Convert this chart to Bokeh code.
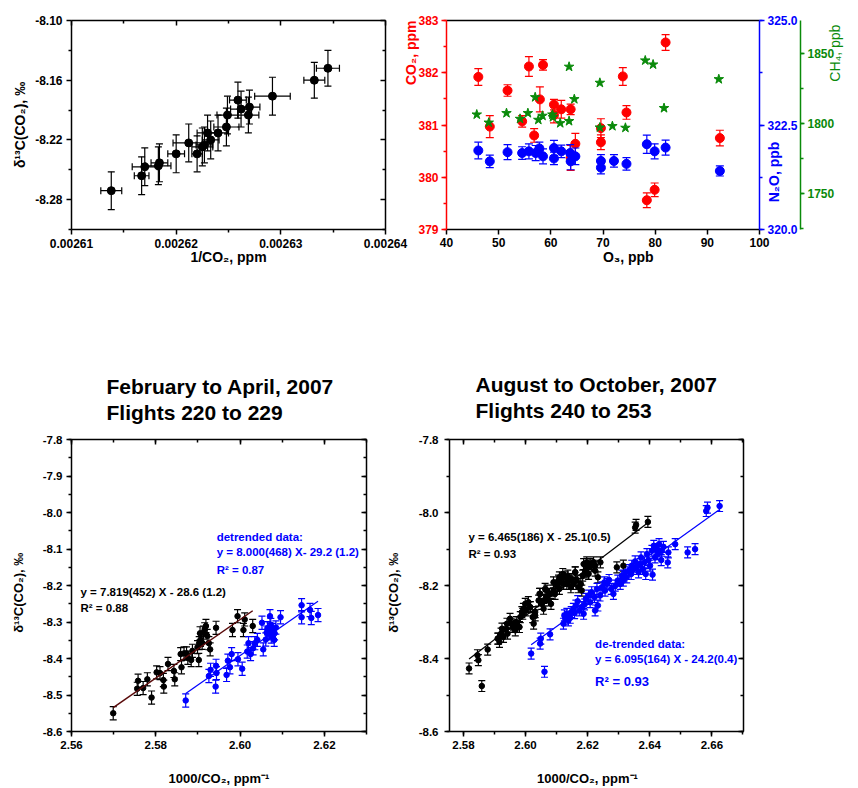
import numpy as np
from bokeh.plotting import figure
from bokeh.models import (Range1d, LinearAxis, SingleIntervalTicker, FixedTicker,
                          PrintfTickFormatter, Label, Title)
from bokeh.layouts import column, row
from bokeh.embed import file_html
from bokeh.resources import INLINE

FONT = "Liberation Sans"
RED = "#ff0000"
BLUE = "#0000ff"
GREEN = "#0a8a0a"
FIT_BROWN = "#5a0a0a"

# ---------------- top-left: delta13C vs 1/CO2 ----------------
inv_co2 = [0.0026138, 0.0026167, 0.0026170, 0.0026183, 0.0026184, 0.0026200,
           0.0026212, 0.0026220, 0.0026225, 0.0026227, 0.0026230, 0.0026233,
           0.0026240, 0.0026248, 0.0026249, 0.0026259, 0.0026262, 0.0026269,
           0.0026270, 0.0026292, 0.0026332, 0.0026345]
d13c_tl = [-8.271, -8.256, -8.247, -8.246, -8.243, -8.234,
           -8.223, -8.234, -8.227, -8.225, -8.213, -8.220,
           -8.213, -8.207, -8.195, -8.180, -8.189, -8.195,
           -8.187, -8.176, -8.160, -8.148]
inv_co2_err = [1.0e-6, 0.7e-6, 1.2e-6, 1.2e-6, 0.8e-6, 0.8e-6,
               1.5e-6, 0.5e-6, 1.0e-6, 0.8e-6, 1.0e-6, 0.8e-6,
               1.0e-6, 1.2e-6, 1.0e-6, 0.8e-6, 1.0e-6, 1.0e-6,
               1.0e-6, 1.7e-6, 1.0e-6, 1.1e-6]
d13c_tl_err = [0.019, 0.019, 0.019, 0.019, 0.019, 0.019,
               0.019, 0.018, 0.019, 0.018, 0.018, 0.019,
               0.018, 0.019, 0.019, 0.018, 0.018, 0.018,
               0.017, 0.019, 0.018, 0.018]
tl_xticks = [0.00261, 0.00262, 0.00263, 0.00264]
tl_xminor = [0.002615, 0.002625, 0.002635]
tl_yticks = [-8.28, -8.22, -8.16, -8.10]
tl_yminor = [-8.31, -8.25, -8.19, -8.13]

# ---------------- top-right: CO2, N2O, CH4 vs O3 ----------------
o3_co2 = [46.1, 48.3, 51.7, 54.5, 55.8, 56.8, 57.9, 58.5, 60.6, 60.6, 62.0,
          63.8, 63.8, 64.7, 69.6, 69.6, 73.8, 74.5, 78.4, 79.9, 82.0, 92.4]
co2 = [381.92, 380.97, 381.66, 381.07, 382.12, 380.80, 381.49, 382.15, 381.39,
       381.19, 381.30, 381.30, 380.37, 380.64, 380.94, 380.67, 381.93, 381.24,
       379.56, 379.76, 382.58, 380.75]
co2_err = [0.16, 0.21, 0.11, 0.11, 0.19, 0.13, 0.24, 0.10, 0.10, 0.15, 0.17,
           0.10, 0.24, 0.20, 0.18, 0.14, 0.17, 0.13, 0.14, 0.13, 0.15, 0.15]

o3_n2o = [46.1, 48.3, 51.7, 54.5, 55.8, 57.1, 57.8, 58.5, 60.6, 60.6, 62.0,
          63.7, 63.8, 64.7, 69.6, 69.6, 72.1, 74.5, 78.4, 79.9, 82.0, 92.4]
n2o = [321.89, 321.63, 321.85, 321.83, 321.87, 321.83, 321.94, 321.75, 321.95,
       321.70, 321.87, 321.83, 321.63, 321.75, 321.64, 321.48, 321.64, 321.57,
       322.04, 321.87, 321.96, 321.40]
n2o_err = [0.20, 0.15, 0.18, 0.15, 0.18, 0.18, 0.15, 0.18, 0.18, 0.15, 0.15,
           0.20, 0.20, 0.20, 0.15, 0.15, 0.15, 0.15, 0.22, 0.18, 0.18, 0.12]

o3_ch4 = [45.8, 48.1, 51.5, 54.1, 55.6, 57.0, 57.6, 58.4, 60.3, 60.4, 61.8,
          63.5, 63.5, 64.5, 69.4, 69.4, 71.8, 74.3, 78.1, 79.6, 81.7, 92.2]
ch4 = [1806.3, 1800.5, 1807.3, 1803.2, 1807.3, 1818.7, 1802.5, 1805.4, 1806.3,
       1804.4, 1800.1, 1801.6, 1840.5, 1817.3, 1829.0, 1797.0, 1798.0, 1796.8,
       1845.0, 1842.1, 1810.9, 1831.6]

# ---------------- bottom-left: Feb-Apr 2007 ----------------
feb_x = [2.5699, 2.5756, 2.5758, 2.5770, 2.5780, 2.5790, 2.5802, 2.5810, 2.5818, 2.5819,
         2.5829, 2.5843, 2.5845, 2.5859, 2.5861, 2.5867, 2.5873, 2.5876, 2.5884, 2.5887,
         2.5899, 2.5902, 2.5903, 2.5905, 2.5906, 2.5910, 2.5913, 2.5916, 2.5919, 2.5922,
         2.5926, 2.5929, 2.5943, 2.5982, 2.5994, 2.6008, 2.6011, 2.6030]
feb_y = [-8.550, -8.483, -8.461, -8.481, -8.457, -8.507, -8.438, -8.440, -8.459, -8.477,
         -8.415, -8.434, -8.457, -8.388, -8.424, -8.386, -8.386, -8.398, -8.404, -8.379,
         -8.369, -8.404, -8.358, -8.331, -8.349, -8.357, -8.329, -8.320, -8.311, -8.338,
         -8.358, -8.375, -8.316, -8.322, -8.284, -8.322, -8.293, -8.311]
feb_dt_x = [2.5871, 2.5926, 2.5930, 2.5942, 2.5944, 2.5943, 2.5968, 2.5971, 2.5976, 2.5980,
            2.5995, 2.6005, 2.6017, 2.6020, 2.6025, 2.6031, 2.6035, 2.6041, 2.6055, 2.6052,
            2.6061, 2.6063, 2.6065, 2.6069, 2.6071, 2.6073, 2.6074, 2.6077, 2.6081, 2.6082,
            2.6085, 2.6096, 2.6146, 2.6146, 2.6166, 2.6169, 2.6185]
feb_dt_y = [-8.515, -8.448, -8.431, -8.477, -8.440, -8.420, -8.445, -8.406, -8.424, -8.388,
            -8.402, -8.428, -8.381, -8.358, -8.388, -8.372, -8.358, -8.349, -8.375, -8.302,
            -8.348, -8.329, -8.317, -8.331, -8.284, -8.308, -8.340, -8.322, -8.349, -8.331,
            -8.315, -8.287, -8.254, -8.287, -8.267, -8.289, -8.281]
feb_err = 0.018

# ---------------- bottom-right: Aug-Oct 2007 ----------------
aug_x = [2.5818, 2.5845, 2.5848, 2.5859, 2.5878, 2.5910, 2.5916, 2.5921, 2.5929, 2.5938,
         2.5942, 2.5950, 2.5954, 2.5959, 2.5967, 2.5970, 2.5980, 2.5983, 2.5988, 2.5991,
         2.5999, 2.6002, 2.6009, 2.6015, 2.6023, 2.6026, 2.6031, 2.6042, 2.6045, 2.6052,
         2.6058, 2.6060, 2.6063, 2.6066, 2.6074, 2.6077, 2.6082, 2.6090, 2.6095, 2.6101,
         2.6106, 2.6109, 2.6114, 2.6120, 2.6122, 2.6128, 2.6133, 2.6136, 2.6141, 2.6146,
         2.6149, 2.6154, 2.6160, 2.6165, 2.6170, 2.6178, 2.6181, 2.6184, 2.6187, 2.6192,
         2.6197, 2.6201, 2.6203, 2.6208, 2.6213, 2.6219, 2.6224, 2.6233, 2.6241, 2.6294,
         2.6315, 2.6353, 2.6356, 2.6394,
         2.5913, 2.5924, 2.5940, 2.5961, 2.5980, 2.5993, 2.6015, 2.6031, 2.6047, 2.6069,
         2.6090, 2.6109, 2.6133, 2.6160, 2.6195, 2.6224]
aug_y = [-8.4273, -8.3910, -8.4046, -8.4754, -8.3755, -8.3455, -8.3546, -8.3319, -8.3410, -8.3183,
         -8.3319, -8.2911, -8.3047, -8.3138, -8.3228, -8.3001, -8.3138, -8.2865, -8.2729, -8.2774,
         -8.2502, -8.2684, -8.2456, -8.2593, -8.2865, -8.3047, -8.2820, -8.2411, -8.2229, -8.2502,
         -8.2638, -8.2411, -8.2093, -8.2320, -8.2411, -8.2229, -8.2502, -8.2139, -8.2229, -8.2002,
         -8.1866, -8.2093, -8.1911, -8.1684, -8.1957, -8.1775, -8.1957, -8.1730, -8.1866, -8.2048,
         -8.1821, -8.1957, -8.1639, -8.1866, -8.2048, -8.1957, -8.2139, -8.1730, -8.1412, -8.1594,
         -8.1366, -8.1503, -8.1684, -8.1412, -8.1457, -8.1366, -8.1594, -8.1775, -8.1366, -8.1503,
         -8.1457, -8.0413, -8.0340, -8.0258,
         -8.3456, -8.3183, -8.3047, -8.3093, -8.3138, -8.2638, -8.2593, -8.2729, -8.2230, -8.2139,
         -8.1912, -8.1775, -8.1866, -8.1639, -8.1639, -8.1458]
aug_dt_x = [2.6018, 2.6047, 2.6049, 2.6061, 2.6079,
            2.6122, 2.6125, 2.6128, 2.6133, 2.6138, 2.6144, 2.6147, 2.6154, 2.6158, 2.6162,
            2.6168, 2.6173, 2.6181, 2.6187, 2.6190, 2.6194, 2.6203, 2.6208, 2.6213, 2.6222,
            2.6224, 2.6230, 2.6233, 2.6240, 2.6246, 2.6254, 2.6256, 2.6262, 2.6269, 2.6276,
            2.6283, 2.6289, 2.6297, 2.6305, 2.6310, 2.6315, 2.6321, 2.6326, 2.6334, 2.6340,
            2.6342, 2.6348, 2.6353, 2.6358, 2.6364, 2.6369, 2.6372, 2.6377, 2.6383, 2.6387,
            2.6391, 2.6396, 2.6401, 2.6407, 2.6409, 2.6413, 2.6417, 2.6423, 2.6426, 2.6430,
            2.6437, 2.6439, 2.6444, 2.6458, 2.6460, 2.6482, 2.6522, 2.6546, 2.6582, 2.6586,
            2.6625]
aug_dt_y = [-8.3865, -8.3592, -8.3456, -8.4364, -8.3338,
            -8.3047, -8.2820, -8.2911, -8.2775, -8.2956, -8.2884, -8.2729, -8.2638, -8.2757, -8.2548,
            -8.2430, -8.2684, -8.2593, -8.2775, -8.2520, -8.2366, -8.2275, -8.2457, -8.2184, -8.2321,
            -8.2684, -8.2093, -8.2548, -8.2275, -8.2048, -8.1912, -8.2139, -8.1957, -8.1848, -8.2093,
            -8.2230, -8.2003, -8.1866, -8.1957, -8.1730, -8.1866, -8.1639, -8.1776, -8.1576, -8.1685,
            -8.1458, -8.1549, -8.1340, -8.1485, -8.1639, -8.1412, -8.1231, -8.1549, -8.1367, -8.1685,
            -8.1140, -8.1303, -8.1458, -8.1049, -8.1703, -8.0913, -8.1231, -8.1004, -8.1140, -8.0867,
            -8.1303, -8.1049, -8.0940, -8.1367, -8.1094, -8.0867, -8.1094, -8.1004, -7.9959, -7.9868,
            -7.9823]
aug_err = 0.015

feb_title = ["February to April, 2007", "Flights 220 to 229"]
aug_title = ["August to October, 2007", "Flights 240 to 253"]
feb_fit_txt = ["y =  7.819(452) X - 28.6 (1.2)", "R\u00b2 = 0.88"]
feb_dt_txt = ["detrended data:", "y =  8.000(468) X- 29.2 (1.2)", "R\u00b2 = 0.87"]
aug_fit_txt = ["y = 6.465(186) X - 25.1(0.5)", "R\u00b2 = 0.93"]
aug_dt_txt = ["de-trended data:", "y = 6.095(164) X - 24.2(0.4)", "R\u00b2 = 0.93"]

D13C = "\u03b4\u00b9\u00b3C(CO\u2082), \u2030"
XBOT = "1000/CO\u2082, ppm\u207b\u00b9"
NB = "\u00a0"   # non-breaking space, used to nudge axis labels along their axis


# ---------------- helpers ----------------
def make_fig(w, h, l, r, t, b, xr, yr):
    p = figure(width=w, height=h, x_range=Range1d(*xr), y_range=Range1d(*yr),
               x_axis_type=None, y_axis_type=None,
               output_backend="svg", toolbar_location=None,
               min_border_left=l, min_border_right=r,
               min_border_top=t, min_border_bottom=b)
    p.outline_line_color = None
    p.background_fill_color = "white"
    p.border_fill_color = "white"
    return p


def set_align(ax, where):
    try:
        ax.axis_label_align = where
    except Exception:
        pass


def add_axis(p, side, ticker, fmt=None, color="black", size="12px", label=None,
             label_size="14px", tick_dir="out", show_labels=True, yname=None,
             standoff=4, label_standoff=6, label_style="bold", tick_len=5, minor_len=3,
             orient=None):
    kw = {}
    if yname:
        kw["y_range_name"] = yname
    ax = LinearAxis(ticker=ticker, **kw)
    if fmt:
        ax.formatter = PrintfTickFormatter(format=fmt)
    ax.axis_line_color = color
    ax.axis_line_width = 1.5
    ax.major_tick_line_color = color
    ax.major_tick_line_width = 1.5
    ax.minor_tick_line_color = color
    ax.minor_tick_line_width = 1.5
    if tick_dir == "out":
        ax.major_tick_out, ax.major_tick_in = tick_len, 0
        ax.minor_tick_out, ax.minor_tick_in = minor_len, 0
    elif tick_dir == "in":
        ax.major_tick_out, ax.major_tick_in = 0, tick_len
        ax.minor_tick_out, ax.minor_tick_in = 0, minor_len
    else:
        ax.major_tick_out = ax.major_tick_in = 0
        ax.minor_tick_out = ax.minor_tick_in = 0
    if show_labels:
        ax.major_label_text_font = FONT
        ax.major_label_text_font_style = "bold"
        ax.major_label_text_font_size = size
        ax.major_label_text_color = color
        ax.major_label_standoff = standoff
    else:
        ax.major_label_text_font_size = "0px"
        ax.major_label_text_color = None
        ax.major_label_standoff = 0
    if label:
        ax.axis_label = label
        ax.axis_label_text_font = FONT
        ax.axis_label_text_font_style = label_style
        ax.axis_label_text_font_size = label_size
        ax.axis_label_text_color = color
        ax.axis_label_standoff = label_standoff
        if orient is not None:
            ax.axis_label_orientation = orient
    p.add_layout(ax, side)
    return ax


def spacer(p, side, ticker, px):
    # invisible axis used only to reserve a band of px pixels in a side panel
    ax = LinearAxis(ticker=ticker)
    ax.axis_line_color = None
    ax.major_tick_line_color = None
    ax.minor_tick_line_color = None
    ax.major_tick_out, ax.major_tick_in = px, 0
    ax.minor_tick_out, ax.minor_tick_in = 0, 0
    ax.major_label_text_font_size = "0px"
    ax.major_label_text_color = None
    ax.major_label_standoff = 0
    p.add_layout(ax, side)


def yerr(p, x, y, e, color, cap=7, width=1.2, yname=None):
    kw = {"y_range_name": yname} if yname else {}
    x = np.asarray(x, float)
    y = np.asarray(y, float)
    e = np.broadcast_to(np.asarray(e, float), y.shape)
    p.segment(x0=x, y0=y - e, x1=x, y1=y + e, line_color=color, line_width=width, **kw)
    p.scatter(np.r_[x, x], np.r_[y - e, y + e], marker="dash", size=cap,
              line_color=color, line_width=width, **kw)


def xerr(p, x, y, e, color, cap=7, width=1.2):
    x = np.asarray(x, float)
    y = np.asarray(y, float)
    e = np.broadcast_to(np.asarray(e, float), x.shape)
    p.segment(x0=x - e, y0=y, x1=x + e, y1=y, line_color=color, line_width=width)
    p.scatter(np.r_[x - e, x + e], np.r_[y, y], marker="dash", size=cap, angle=np.pi / 2,
              line_color=color, line_width=width)


def fit_line(p, x, y, color, width=1.2):
    x = np.asarray(x, float)
    y = np.asarray(y, float)
    k, c = np.polyfit(x, y, 1)
    xs = np.array([x.min(), x.max()])
    p.line(xs, k * xs + c, line_color=color, line_width=width)


def label(p, x, y, text, color="black", size="12px", style="bold", align="left"):
    p.add_layout(Label(x=x, y=y, text=text, text_color=color, text_font=FONT,
                       text_font_size=size, text_font_style=style, text_align=align,
                       text_baseline="middle"))


def titles(p, lines, offset):
    # first added sits closest to the frame
    p.add_layout(Title(text=lines[1], align="left", offset=offset, text_font=FONT,
                       text_font_style="bold", text_font_size="21px", standoff=2,
                       text_color="black"), "above")
    p.add_layout(Title(text=lines[0], align="left", offset=offset, text_font=FONT,
                       text_font_style="bold", text_font_size="21px", standoff=0,
                       text_color="black"), "above")


# ================= top-left =================
p1 = make_fig(408, 370, 71, 23, 20, 141, (0.00261, 0.00264), (-8.31, -8.10))
add_axis(p1, "below", FixedTicker(ticks=tl_xticks, minor_ticks=tl_xminor), fmt="%.5f",
         label="1/CO\u2082, ppm", label_size="14px", standoff=4, label_standoff=-2)
add_axis(p1, "left", FixedTicker(ticks=tl_yticks, minor_ticks=tl_yminor),
         fmt="%.2f", label=D13C, label_size="14px", standoff=4, label_standoff=4)
add_axis(p1, "above", FixedTicker(ticks=tl_xticks, minor_ticks=tl_xminor),
         tick_dir="in", show_labels=False)
add_axis(p1, "right", FixedTicker(ticks=tl_yticks, minor_ticks=tl_yminor),
         tick_dir="in", show_labels=False)
xerr(p1, inv_co2, d13c_tl, inv_co2_err, "black", cap=7)
yerr(p1, inv_co2, d13c_tl, d13c_tl_err, "black", cap=7)
p1.scatter(inv_co2, d13c_tl, marker="circle", size=8, fill_color="black", line_color="black")

# ================= top-right =================
p2 = make_fig(470, 370, 58, 99, 20, 141, (40, 100), (379, 383))
p2.border_fill_color = None      # let the neighbour's last tick label show through
p2.margin = (0, 0, 0, -20)
p2.extra_y_ranges = {"n2o": Range1d(320.0, 325.0), "ch4": Range1d(1724.0, 1873.6)}
add_axis(p2, "below", SingleIntervalTicker(interval=10, num_minor_ticks=0), fmt="%d",
         standoff=3, label=NB * 13 + "O\u2083, ppb", label_size="14px", label_standoff=-1)
red_ax = add_axis(p2, "left", SingleIntervalTicker(interval=1, num_minor_ticks=2), fmt="%d",
                  color=RED, standoff=3, label="CO\u2082, ppm", label_size="14px",
                  label_standoff=4, orient=np.pi / 2)
set_align(red_ax, "end")
add_axis(p2, "above", SingleIntervalTicker(interval=10, num_minor_ticks=0),
         tick_dir="none", show_labels=False)
blue_ax = add_axis(p2, "right", SingleIntervalTicker(interval=2.5, num_minor_ticks=2),
                   fmt="%.1f", color=BLUE, yname="n2o", standoff=3, size="12px",
                   label=NB * 7 + "N\u2082O, ppb", label_size="14px", label_standoff=-27,
                   orient=np.pi / 2)
set_align(blue_ax, "start")
spacer(p2, "right", SingleIntervalTicker(interval=1, num_minor_ticks=0), 8)
green_ax = add_axis(p2, "right", SingleIntervalTicker(interval=50, num_minor_ticks=2),
                    fmt="%d", color=GREEN, yname="ch4", standoff=3, tick_len=4,
                    size="12px", label=NB * 38 + "CH\u2084, ppb", label_size="14px",
                    label_style="normal", label_standoff=-2, orient=np.pi / 2)
set_align(green_ax, "start")

yerr(p2, o3_co2, co2, co2_err, RED, cap=8)
p2.scatter(o3_co2, co2, marker="circle", size=9, fill_color=RED, line_color=RED)
yerr(p2, o3_n2o, n2o, n2o_err, BLUE, cap=8, yname="n2o")
p2.scatter(o3_n2o, n2o, marker="circle", size=9, fill_color=BLUE, line_color=BLUE,
           y_range_name="n2o")
p2.scatter(o3_ch4, ch4, marker="star", size=10, fill_color=GREEN, line_color=GREEN,
           y_range_name="ch4")

# ================= bottom-left =================
p3 = make_fig(380, 418, 71, 14, 69, 56, (2.56, 2.63), (-8.6, -7.8))
add_axis(p3, "below", SingleIntervalTicker(interval=0.02, num_minor_ticks=2), fmt="%.2f",
         size="11.5px", label=XBOT, label_size="13px", standoff=4, label_standoff=19)
add_axis(p3, "left", SingleIntervalTicker(interval=0.1, num_minor_ticks=2), fmt="%.1f",
         size="11.5px", label=D13C + NB * 4, label_size="13px", standoff=4, label_standoff=14)
add_axis(p3, "above", SingleIntervalTicker(interval=0.02, num_minor_ticks=2),
         tick_dir="in", show_labels=False)
add_axis(p3, "right", SingleIntervalTicker(interval=0.1, num_minor_ticks=2),
         tick_dir="in", show_labels=False)
spacer(p3, "above", SingleIntervalTicker(interval=0.02, num_minor_ticks=0), 15)
titles(p3, feb_title, 35)
yerr(p3, feb_x, feb_y, feb_err, "black", cap=7)
yerr(p3, feb_dt_x, feb_dt_y, feb_err, BLUE, cap=7)
p3.scatter(feb_x, feb_y, marker="circle", size=5.5, fill_color="black", line_color="black")
p3.scatter(feb_dt_x, feb_dt_y, marker="circle", size=5.5, fill_color=BLUE, line_color=BLUE)
fit_line(p3, feb_x, feb_y, FIT_BROWN, width=1.5)
fit_line(p3, feb_dt_x, feb_dt_y, BLUE, width=1.2)

label(p3, 2.56214, -8.2174, feb_fit_txt[0], size="11.5px")
label(p3, 2.56214, -8.2628, feb_fit_txt[1], size="11.5px")
label(p3, 2.59444, -8.0671, feb_dt_txt[0], color=BLUE, size="11.5px")
label(p3, 2.59444, -8.1081, feb_dt_txt[1], color=BLUE, size="11.5px")
label(p3, 2.59444, -8.1562, feb_dt_txt[2], color=BLUE, size="11.5px")

# ================= bottom-right =================
p4 = make_fig(478, 418, 69, 115, 69, 56, (2.5755, 2.6702), (-8.6, -7.8))
add_axis(p4, "below", SingleIntervalTicker(interval=0.02, num_minor_ticks=2), fmt="%.2f",
         size="11.5px", label=XBOT + NB * 5, label_size="13px", standoff=4, label_standoff=19)
add_axis(p4, "left", SingleIntervalTicker(interval=0.2, num_minor_ticks=2), fmt="%.1f",
         size="11.5px", label=D13C + NB * 4, label_size="13px", standoff=6, label_standoff=15)
add_axis(p4, "above", SingleIntervalTicker(interval=0.02, num_minor_ticks=2),
         tick_dir="in", show_labels=False)
add_axis(p4, "right", SingleIntervalTicker(interval=0.2, num_minor_ticks=2),
         tick_dir="in", show_labels=False)
spacer(p4, "above", SingleIntervalTicker(interval=0.02, num_minor_ticks=0), 17)
titles(p4, aug_title, 26)
yerr(p4, aug_x, aug_y, aug_err, "black", cap=7)
yerr(p4, aug_dt_x, aug_dt_y, aug_err, BLUE, cap=7)
p4.scatter(aug_x, aug_y, marker="circle", size=5.5, fill_color="black", line_color="black")
p4.scatter(aug_dt_x, aug_dt_y, marker="circle", size=5.5, fill_color=BLUE, line_color=BLUE)
fit_line(p4, aug_x, aug_y, "black", width=1.2)
fit_line(p4, aug_dt_x, aug_dt_y, BLUE, width=1.2)

label(p4, 2.5816, -8.0659, aug_fit_txt[0], size="11.5px")
label(p4, 2.5816, -8.1139, aug_fit_txt[1], size="11.5px")
label(p4, 2.6224, -8.3610, aug_dt_txt[0], color=BLUE, size="11.5px")
label(p4, 2.6224, -8.4011, aug_dt_txt[1], color=BLUE, size="11.5px")
label(p4, 2.6224, -8.4638, aug_dt_txt[2], color=BLUE, size="13px")

layout = column(row(p1, p2, spacing=0), row(p3, p4, spacing=0), spacing=0)

with open("out.html", "w") as f:
    f.write(file_html(layout, INLINE))
